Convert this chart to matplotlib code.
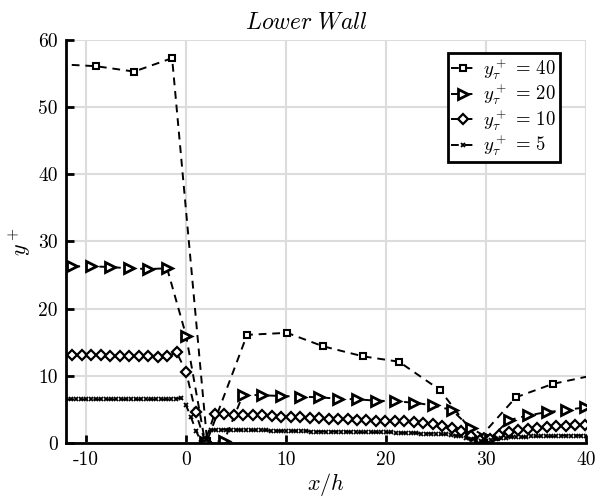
import numpy as np
import matplotlib
matplotlib.use("Agg")
import matplotlib.pyplot as plt

plt.rcParams['font.family'] = 'cmr10'
plt.rcParams['mathtext.fontset'] = 'cm'
plt.rcParams['axes.unicode_minus'] = False

# y+_tau = 40 (squares)
x40 = [-12.8, -9.0, -5.2, -1.4, 2.1, 6.1, 10.1, 13.7, 17.7, 21.3, 25.4, 29.2, 33.0, 36.7, 40.5]
y40 = [56.4, 56.1, 55.3, 57.3, 0.3, 16.1, 16.4, 14.4, 12.9, 12.1, 7.9, 0.5, 6.8, 8.8, 10.0]

# y+_tau = 20 (triangles), spacing 1.9
x20 = np.arange(28) * 1.9 - 11.4
y20 = [26.3, 26.3, 26.2, 26.0, 25.9, 26.0, 16.0, 0.1, 0.3, 7.2,
       7.1, 7.0, 6.9, 6.8, 6.6, 6.5, 6.3, 6.2, 6.0, 5.6,
       4.9, 2.2, 0.6, 3.4, 4.1, 4.6, 4.9, 5.3]

# y+_tau = 10 (diamonds), spacing 0.95
x10 = np.arange(55) * 0.95 - 11.4
y10 = [13.1, 13.1, 13.1, 13.1, 13.0, 13.0, 13.0, 12.9, 12.9, 12.8,
       12.9, 13.5, 10.6, 4.6, 0.2, 4.3, 4.3, 4.2, 4.2, 4.1,
       4.1, 4.0, 3.9, 3.9, 3.8, 3.7, 3.7, 3.6, 3.5, 3.5,
       3.4, 3.4, 3.3, 3.3, 3.2, 3.2, 3.1, 3.0, 2.8, 2.6,
       2.3, 1.8, 1.1, 0.4, 0.6, 1.2, 1.6, 1.9, 2.1, 2.3,
       2.4, 2.5, 2.6, 2.7, 2.7]

# y+_tau = 5 (crosses), spacing 0.5
x5 = np.arange(105) * 0.5 - 12.0
y5 = ([6.5] * 22 +
      [6.6, 6.7, 5.6, 3.8, 1.8, 0.2, 0.4, 1.9, 2.0] +
      [2.0, 2.0, 2.0, 2.0, 1.9, 1.9, 1.9, 1.9, 1.9, 1.9, 1.8, 1.8, 1.8, 1.8] +
      [1.8, 1.8, 1.8, 1.8, 1.7, 1.7, 1.7, 1.7, 1.7, 1.7,
       1.7, 1.7, 1.6, 1.6, 1.6, 1.6, 1.6, 1.6, 1.6, 1.6] +
      [1.6, 1.5, 1.5, 1.5, 1.5, 1.5, 1.4, 1.4, 1.4, 1.4] +
      [1.3, 1.3, 1.2, 1.1, 1.0, 0.8, 0.6, 0.4, 0.3, 0.3, 0.4, 0.6, 0.7, 0.8, 0.9] +
      [0.9, 0.9, 0.9, 1.0, 1.0, 1.0, 1.0, 1.0, 1.0, 1.1, 1.1, 1.1, 1.1, 1.1, 1.1])

dash = (0, (4, 3))

fig = plt.figure(figsize=(5.96, 4.97), dpi=100)
ax = fig.add_axes([0.111, 0.1087, 0.872, 0.8108])

ax.plot(x40, y40, color='k', ls=dash, lw=1.4, marker='s', ms=4.5, mfc='white', mew=1.5,
        label=r'$y_\tau^+ \,=\, 40$', markevery=list(range(1, 14)))
ax.plot(x20, y20, color='k', ls=dash, lw=1.4, marker='>', ms=6.5, mfc='white', mew=2.0,
        label=r'$y_\tau^+ \,=\, 20$')
ax.plot(x10, y10, color='k', ls=dash, lw=1.4, marker='D', ms=5, mfc='white', mew=1.6,
        label=r'$y_\tau^+ \,=\, 10$')
ax.plot(x5, y5, color='k', ls=dash, lw=1.4, marker='x', ms=3.5, mew=1.3,
        label=r'$y_\tau^+ \,=\, 5$')

ax.set_xlim(-12, 40)
ax.set_ylim(0, 60)
ax.set_xticks([-10, 0, 10, 20, 30, 40])
ax.set_yticks([0, 10, 20, 30, 40, 50, 60])
ax.grid(True, color='#dcdcdc', lw=1.5)
ax.set_axisbelow(True)

for s in ['top', 'right']:
    ax.spines[s].set_visible(False)
for s in ['left', 'bottom']:
    ax.spines[s].set_linewidth(2)
ax.tick_params(direction='in', length=6, width=2, labelsize=14, pad=6)

ax.set_title(r'$Lower\ Wall$', fontsize=17, pad=8, x=0.463)
ax.set_xlabel(r'$x/h$', fontsize=16, labelpad=1)
ax.set_ylabel(r'$y^+$', fontsize=16, labelpad=4)

leg = ax.legend(loc='upper right', bbox_to_anchor=(0.95, 0.968), fontsize=13.5,
                fancybox=False, framealpha=1, edgecolor='k', handlelength=1.2,
                handletextpad=0.5, borderpad=0.2, labelspacing=0.02,
                borderaxespad=0)
leg.get_frame().set_linewidth(2)

fig.savefig('out.png', dpi=100)
